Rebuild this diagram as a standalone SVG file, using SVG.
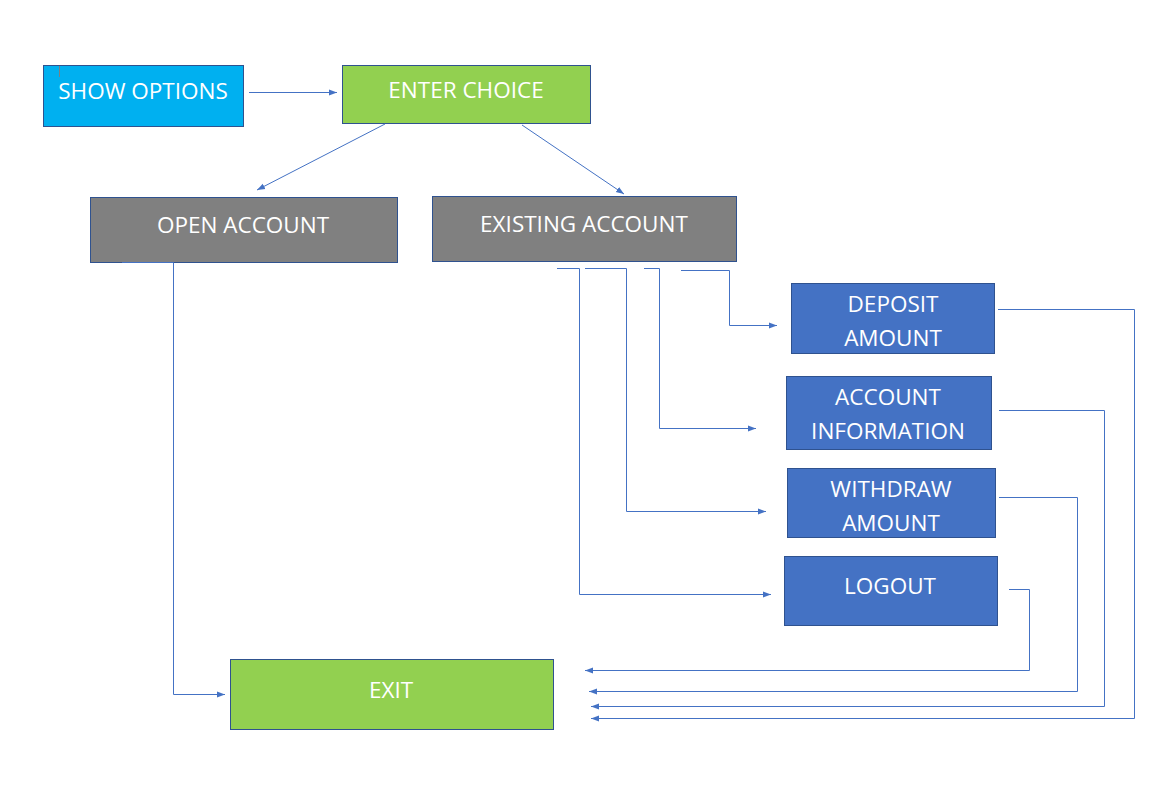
<svg xmlns="http://www.w3.org/2000/svg" width="1164" height="810" viewBox="0 0 1164 810">
<style>
.box{stroke:#2F528F;stroke-width:1}
.blue{fill:#4472C4}
.green{fill:#92D050}
.gray{fill:#808080}
.sky{fill:#00B0F0}
.t{font-family:"Open Sans","Noto Sans",sans-serif;font-size:22.5px;fill:#FFFFFF;text-anchor:middle}
.c{fill:none;stroke:#4472C4;stroke-width:1}
</style>
<defs>
<marker id="ah" viewBox="0 0 8 8" refX="8" refY="4" markerWidth="8" markerHeight="8" markerUnits="userSpaceOnUse" orient="auto">
<path d="M0,1 L8,4 L0,7 Z" fill="#4472C4"/>
</marker>
</defs>
<rect width="1164" height="810" fill="#FFFFFF"/>
<g id="show-options">
<rect class="box sky" x="43.5" y="65.5" width="200" height="61"/>
<line x1="59.5" y1="66" x2="59.5" y2="77" stroke="#7F7F7F" stroke-width="1"/>
<text class="t" x="143" y="99">SHOW OPTIONS</text>
</g>
<g id="enter-choice">
<rect class="box green" x="342.5" y="65.5" width="248" height="58"/>
<text class="t" x="466" y="98">ENTER CHOICE</text>
</g>
<g id="open-account">
<rect class="box gray" x="90.5" y="197.5" width="307" height="65"/>
<text class="t" x="243" y="233">OPEN ACCOUNT</text>
</g>
<g id="existing-account">
<rect class="box gray" x="432.5" y="196.5" width="304" height="65"/>
<text class="t" x="584" y="232">EXISTING ACCOUNT</text>
</g>
<g id="deposit-amount">
<rect class="box blue" x="791.5" y="283.5" width="203" height="70"/>
<text class="t" x="893" y="312">DEPOSIT</text>
<text class="t" x="893" y="346">AMOUNT</text>
</g>
<g id="account-information">
<rect class="box blue" x="786.5" y="376.5" width="205" height="73"/>
<text class="t" x="888" y="405">ACCOUNT</text>
<text class="t" x="888" y="439">INFORMATION</text>
</g>
<g id="withdraw-amount">
<rect class="box blue" x="787.5" y="468.5" width="208" height="69"/>
<text class="t" x="891" y="497">WITHDRAW</text>
<text class="t" x="891" y="531">AMOUNT</text>
</g>
<g id="logout">
<rect class="box blue" x="784.5" y="556.5" width="213" height="69"/>
<text class="t" x="890" y="594">LOGOUT</text>
</g>
<g id="exit">
<rect class="box green" x="230.5" y="659.5" width="323" height="70"/>
<text class="t" x="391" y="698">EXIT</text>
</g>
<g id="connectors">
<line class="c" x1="249" y1="92.5" x2="337" y2="92.5" marker-end="url(#ah)"/>
<line class="c" x1="385" y1="124" x2="257" y2="190" marker-end="url(#ah)"/>
<line class="c" x1="522" y1="125" x2="624" y2="194" marker-end="url(#ah)"/>
<polyline class="c" points="122,262.5 173.5,262.5 173.5,694.5 225,694.5" marker-end="url(#ah)"/>
<polyline class="c" points="557,268.5 579.5,268.5 579.5,594.5 771,594.5" marker-end="url(#ah)"/>
<polyline class="c" points="585,268.5 626.5,268.5 626.5,511.5 766,511.5" marker-end="url(#ah)"/>
<polyline class="c" points="644,268.5 659.5,268.5 659.5,428.5 756,428.5" marker-end="url(#ah)"/>
<polyline class="c" points="681,270.5 729.5,270.5 729.5,325.5 777,325.5" marker-end="url(#ah)"/>
<polyline class="c" points="998,309.5 1134.5,309.5 1134.5,718.5 591,718.5" marker-end="url(#ah)"/>
<polyline class="c" points="999,410.5 1104.5,410.5 1104.5,706.5 591,706.5" marker-end="url(#ah)"/>
<polyline class="c" points="999,497.5 1077.5,497.5 1077.5,691.5 589,691.5" marker-end="url(#ah)"/>
<polyline class="c" points="1009,589.5 1029.5,589.5 1029.5,670.5 585,670.5" marker-end="url(#ah)"/>
</g>
</svg>
